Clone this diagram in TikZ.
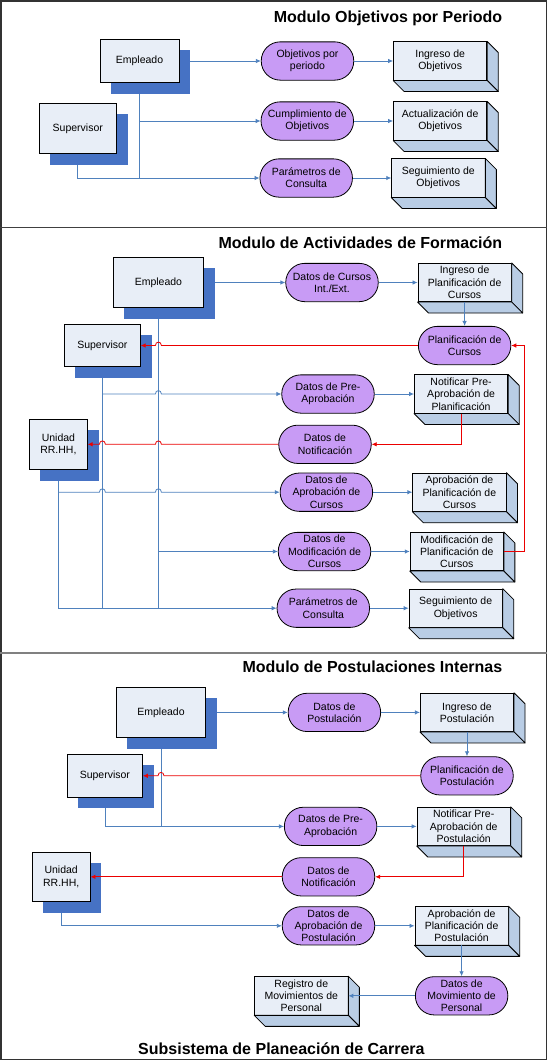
\documentclass[tikz,border=0pt]{standalone}
\usepackage{fontspec}
\setmainfont{Liberation Sans}
\usetikzlibrary{arrows.meta,calc,backgrounds}

\definecolor{frontblue}{RGB}{232,238,247}
\definecolor{sideblue}{RGB}{185,205,229}
\definecolor{shadowblue}{RGB}{70,114,196}
\definecolor{datapurple}{RGB}{200,155,245}
\definecolor{flowblue}{RGB}{79,129,189}
\definecolor{flowred}{RGB}{235,0,0}

\newcommand{\boxtext}{\fontsize{10.5}{12.3}\selectfont}
% small jump over a crossing line (going left / going right)
\newcommand{\hopleft}[1]{-- ($(#1)+(3,0)$) .. controls +(0,-4.5) and +(0,-4.5) .. ($(#1)+(-3,0)$)}
\newcommand{\hopright}[1]{-- ($(#1)+(-3,0)$) .. controls +(0,-4.5) and +(0,-4.5) .. ($(#1)+(3,0)$)}

\tikzset{
    actor/.style={draw=black, line width=0.9pt, fill=frontblue, inner sep=0pt, align=center, font=\boxtext},
    data/.style={draw=black, line width=0.8pt, fill=datapurple, rounded corners=19pt,
        minimum width=92.5pt, minimum height=38.3pt, inner sep=0pt, align=center, font=\boxtext},
    store/.style={draw=black, line width=0.8pt, fill=frontblue,
        minimum width=93.3pt, minimum height=38.3pt, inner sep=0pt, align=center, font=\boxtext},
    flow/.style={flowblue, line width=0.8pt, -{Latex[length=5pt,width=4.5pt]}},
    link/.style={flowblue, line width=0.8pt},
    answer/.style={flowred, line width=0.8pt, -{Latex[length=5pt,width=4.5pt]}},
    heading/.style={font=\fontsize{16}{19}\selectfont\bfseries, inner sep=0pt}
}

\begin{document}
\begin{tikzpicture}[x=1pt, y=-1pt]
    \useasboundingbox (0,0) rectangle (547,1060);

    % frame and panel separators
    \draw[black!80, line width=1.5pt] (0.75,0.75) rectangle (546.25,1059.25);
    \draw[black!75, line width=1.3pt] (0,227.3) -- (547,227.3);
    \draw[black!50, line width=2pt] (0,652.7) -- (547,652.7);

    % ---------------- Modulo Objetivos por Periodo ----------------
    \node[heading, anchor=base east] (title1) at (502.4,22.7) {Modulo Objetivos por Periodo};

    \node[actor, minimum width=79pt, minimum height=43pt] (emp1) at (139.5,61) {Empleado};
    \node[actor, minimum width=77pt, minimum height=50pt] (sup1) at (77.8,128.3) {Supervisor};

    \node[data] (objP) at (307.5,61) {Objetivos por\\periodo};
    \node[data] (cumP) at (307.3,121) {Cumplimiento de\\Objetivos};
    \node[data] (parP) at (306.2,178) {Parámetros de\\Consulta};

    \node[store] (ingO) at (440.2,61) {Ingreso de\\Objetivos};
    \node[store] (actO) at (440.2,121) {Actualización de\\Objetivos};
    \node[store] (segO) at (438.3,178) {Seguimiento de\\Objetivos};

    % ---------------- Modulo de Actividades de Formacion ----------------
    \node[heading, anchor=base east] (title2) at (502.4,248.7) {Modulo de Actividades de Formación};

    \node[actor, minimum width=90pt, minimum height=49.3pt] (emp2) at (158.4,282.5) {Empleado};
    \node[actor, minimum width=75.7pt, minimum height=42.3pt] (sup2) at (102.4,345.5) {Supervisor};
    \node[actor, minimum width=57.5pt, minimum height=49.6pt] (unid2) at (58.4,444.3) {Unidad\\RR.HH,};

    \node[data] (curD) at (332,282.5) {Datos de Cursos\\Int./Ext.};
    \node[data] (planD) at (464.6,345.5) {Planificación de\\Cursos};
    \node[data] (preD) at (328,394) {Datos de Pre-\\Aprobación};
    \node[data] (notD) at (325,444.3) {Datos de\\Notificación};
    \node[data] (aprD) at (326.4,492.2) {Datos de\\Aprobación de\\Cursos};
    \node[data] (modD) at (324.5,551.5) {Datos de\\Modificación de\\Cursos};
    \node[data] (parD) at (323.3,608.2) {Parámetros de\\Consulta};

    \node[store] (ingC) at (464.6,282.5) {Ingreso de\\Planificación de\\Cursos};
    \node[store] (notC) at (461.1,394) {Notificar Pre-\\Aprobación de\\Planificación};
    \node[store] (aprC) at (459.4,492.2) {Aprobación de\\Planificación de\\Cursos};
    \node[store] (modC) at (456.8,551.5) {Modificación de\\Planificación de\\Cursos};
    \node[store] (segC) at (455.7,608.2) {Seguimiento de\\Objetivos};

    % ---------------- Modulo de Postulaciones Internas ----------------
    \node[heading, anchor=base east] (title3) at (502.4,672.7) {Modulo de Postulaciones Internas};

    \node[actor, minimum width=89.7pt, minimum height=50pt] (emp3) at (161,712.4) {Empleado};
    \node[actor, minimum width=75pt, minimum height=42.4pt] (sup3) at (104.9,775.8) {Supervisor};
    \node[actor, minimum width=57.6pt, minimum height=49pt] (unid3) at (61.2,876.8) {Unidad\\RR.HH,};

    \node[data] (posD) at (334.4,712.4) {Datos de\\Postulación};
    \node[data] (plaD) at (467,775.8) {Planificación de\\Postulación};
    \node[data] (pr3D) at (330.6,826.4) {Datos de Pre-\\Aprobación};
    \node[data] (no3D) at (328.5,876.8) {Datos de\\Notificación};
    \node[data] (ap3D) at (328.5,925.8) {Datos de\\Aprobación de\\Postulación};
    \node[data] (movD) at (461.6,995.8) {Datos de\\Movimiento de\\Personal};

    \node[store] (ingPo) at (467,712.4) {Ingreso de\\Postulación};
    \node[store] (notPo) at (463.7,826.4) {Notificar Pre-\\Aprobación de\\Postulación};
    \node[store] (aprPo) at (461.6,925.8) {Aprobación de\\Planificación de\\Postulación};
    \node[store] (regPo) at (301.3,995.8) {Registro de\\Movimientos de\\Personal};

    \node[heading, anchor=base] (title4) at (281.4,1054) {Subsistema de Planeación de Carrera};

    % side faces of the stores
    \foreach \n in {ingO,actO,segO,ingC,notC,aprC,modC,segC,ingPo,notPo,aprPo,regPo} {
        \filldraw[fill=sideblue, draw=black, line width=0.8pt, line join=round]
            (\n.north east) -- ++(11,11) -- ([shift={(11,11)}]\n.south east) -- (\n.south east) -- cycle;
        \filldraw[fill=sideblue, draw=black, line width=0.8pt, line join=round]
            (\n.south west) -- ++(11,11) -- ([shift={(11,11)}]\n.south east) -- (\n.south east) -- cycle;
    }

    % shadows of the actors
    \begin{scope}[on background layer]
        \foreach \n in {emp1,sup1,emp2,sup2,unid2,emp3,sup3,unid3}
            \fill[shadowblue] ([shift={(11,11)}]\n.north west) rectangle ([shift={(11,11)}]\n.south east);
    \end{scope}

    % flows, first module
    \draw[flow] ([shift={(11,0)}]emp1.east) -- (objP.west);
    \draw[flow] (objP.east) -- (ingO.west);
    \draw[link] ([shift={(0,11)}]emp1.south) -- (emp1.south |- parP.west);
    \draw[flow] (emp1.south |- cumP.west) -- (cumP.west);
    \draw[flow] ([shift={(0,11)}]sup1.south) |- (parP.west);
    \draw[flow] (cumP.east) -- (actO.west);
    \draw[flow] (parP.east) -- (segO.west);

    % flows, second module
    \draw[flow] ([shift={(11,0)}]emp2.east) -- (curD.west);
    \draw[flow] (curD.east) -- (ingC.west);
    \draw[flow] (ingC.south) -- (planD.north);
    \draw[link] ([shift={(0,11)}]emp2.south) -- (emp2.south |- parD.west);
    \draw[link] ([shift={(0,11)}]sup2.south) -- (sup2.south |- parD.west);
    \draw[flow] ([shift={(0,11)}]unid2.south) |- (parD.west);
    \draw[flow] (sup2.south |- preD.west) \hopright{emp2.south |- preD.west} -- (preD.west);
    \draw[flow] (unid2.south |- aprD.west) \hopright{sup2.south |- aprD.west} \hopright{emp2.south |- aprD.west} -- (aprD.west);
    \draw[flow] (emp2.south |- modD.west) -- (modD.west);
    \draw[flow] (preD.east) -- (notC.west);
    \draw[flow] (aprD.east) -- (aprC.west);
    \draw[flow] (modD.east) -- (modC.west);
    \draw[flow] (parD.east) -- (segC.west);

    % answers, second module
    \draw[answer] (planD.west) \hopleft{emp2.south |- planD.west} -- (sup2.east);
    \draw[answer] (modC.east) -- ++(21,0) |- (planD.east);
    \draw[answer] (notC.south) |- (notD.east);
    \draw[answer] (notD.west) \hopleft{emp2.south |- notD.west} \hopleft{sup2.south |- notD.west} -- (unid2.east);

    % flows, third module
    \draw[flow] ([shift={(11,0)}]emp3.east) -- (posD.west);
    \draw[flow] (posD.east) -- (ingPo.west);
    \draw[flow] (ingPo.south) -- (plaD.north);
    \draw[link] ([shift={(0,11)}]emp3.south) -- (emp3.south |- pr3D.west);
    \draw[flow] ([shift={(0,11)}]sup3.south) |- (pr3D.west);
    \draw[flow] (pr3D.east) -- (notPo.west);
    \draw[flow] ([shift={(0,11)}]unid3.south) |- (ap3D.west);
    \draw[flow] (ap3D.east) -- (aprPo.west);
    \draw[flow] (aprPo.south) -- (movD.north);
    \draw[flow] (movD.west) -- (regPo.east);

    % answers, third module
    \draw[answer] (plaD.west) \hopleft{emp3.south |- plaD.west} -- (sup3.east);
    \draw[answer] (notPo.south) |- (no3D.east);
    \draw[answer] (no3D.west) -- (unid3.east);
\end{tikzpicture}
\end{document}
